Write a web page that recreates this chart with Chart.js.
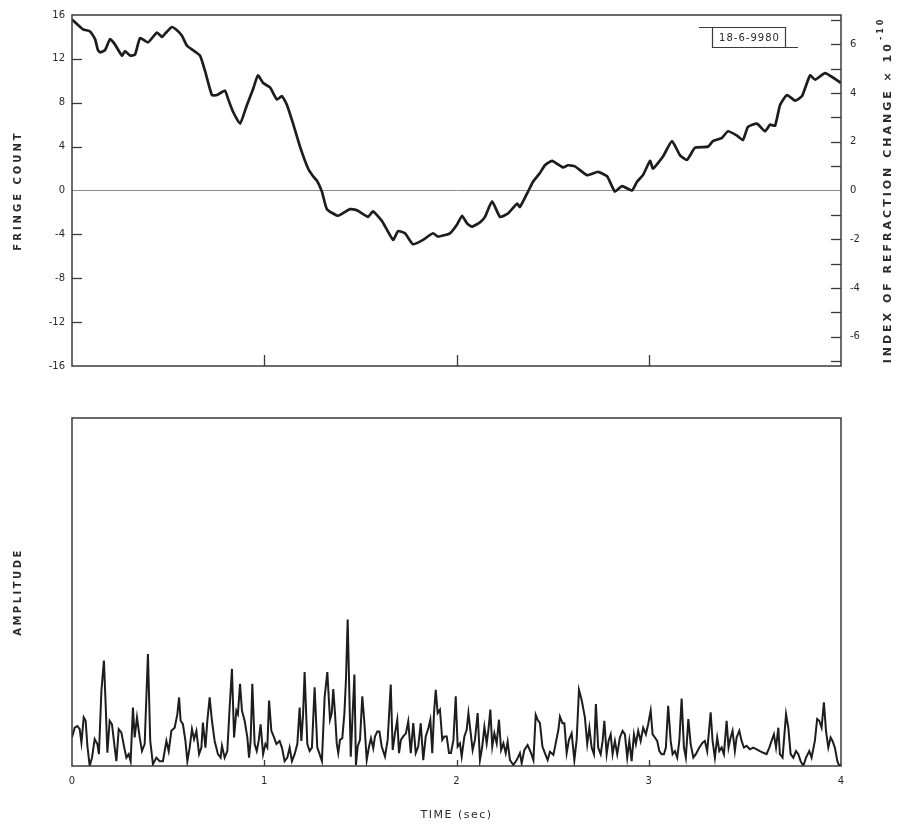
<!DOCTYPE html>
<html>
<head>
<meta charset="utf-8">
<script src="https://cdn.jsdelivr.net/npm/chart.js@4.4.1/dist/chart.umd.min.js"></script>
<style>
  html, body { margin: 0; padding: 0; background: #fff; }
  #wrap { position: relative; width: 905px; height: 824px; }
  #c1 { position: absolute; left: 0; top: 0; }
  #c2 { position: absolute; left: 0; top: 392px; }
</style>
</head>
<body>
<div id="wrap">
  <canvas id="c1" width="905" height="392"></canvas>
  <canvas id="c2" width="905" height="432"></canvas>
</div>
<script>
// ---- Fringe count record (time in seconds, count in fringes) ----
const fringeTime = [
  0.000,0.057,0.094,0.120,0.135,0.146,0.172,0.198,0.224,0.260,
  0.276,0.302,0.328,0.354,0.395,0.442,0.468,0.484,0.520,0.546,
  0.572,0.598,0.629,0.666,0.692,0.728,0.754,0.796,0.811,0.837,
  0.874,0.910,0.941,0.967,0.994,1.030,1.066,1.092,1.118,1.150,
  1.186,1.228,1.254,1.274,1.300,1.326,1.384,1.446,1.482,1.540,
  1.566,1.613,1.670,1.696,1.732,1.774,1.826,1.878,1.904,1.966,
  2.003,2.029,2.055,2.081,2.122,2.148,2.185,2.226,2.268,2.315,
  2.330,2.372,2.398,2.434,2.460,2.497,2.554,2.580,2.616,2.679,
  2.736,2.783,2.824,2.861,2.913,2.939,2.970,3.007,3.022,3.074,
  3.121,3.163,3.199,3.241,3.308,3.334,3.381,3.412,3.459,3.490,
  3.516,3.563,3.605,3.631,3.657,3.683,3.719,3.761,3.797,3.839,
  3.865,3.917,3.958,3.984,4.000
];
const fringeCount = [
  15.6,14.7,14.5,13.8,12.8,12.6,12.8,13.8,13.3,12.3,
  12.7,12.3,12.4,13.9,13.5,14.4,14.0,14.3,14.9,14.6,
  14.1,13.2,12.8,12.3,10.9,8.7,8.7,9.1,8.4,7.2,
  6.1,7.8,9.2,10.5,9.8,9.4,8.3,8.6,7.8,6.1,
  4.0,2.0,1.3,0.9,-0.1,-1.7,-2.3,-1.7,-1.8,-2.4,
  -1.9,-2.8,-4.5,-3.7,-3.9,-4.9,-4.5,-3.9,-4.2,-3.9,
  -3.1,-2.3,-3.0,-3.3,-2.9,-2.4,-1.0,-2.4,-2.1,-1.2,
  -1.5,-0.1,0.8,1.6,2.3,2.7,2.1,2.3,2.2,1.4,
  1.7,1.3,-0.1,0.4,0.0,0.8,1.4,2.7,2.0,3.1,
  4.5,3.2,2.8,3.9,4.0,4.5,4.8,5.4,5.0,4.6,
  5.8,6.1,5.4,6.0,5.9,7.8,8.7,8.2,8.6,10.5,
  10.1,10.7,10.3,10.0,9.8
];

// ---- Amplitude record (time in seconds, arbitrary amplitude units) ----
const ampTime = [
  0.000,0.014,0.028,0.040,0.049,0.061,0.071,0.080,0.092,0.104,
  0.118,0.132,0.140,0.153,0.166,0.175,0.184,0.196,0.208,0.222,
  0.231,0.243,0.257,0.270,0.283,0.295,0.305,0.317,0.326,0.338,
  0.352,0.364,0.378,0.395,0.407,0.421,0.439,0.456,0.473,0.491,
  0.503,0.517,0.534,0.548,0.557,0.565,0.577,0.590,0.600,0.612,
  0.624,0.635,0.647,0.661,0.673,0.681,0.694,0.704,0.716,0.728,
  0.742,0.759,0.773,0.780,0.794,0.808,0.820,0.832,0.843,0.855,
  0.863,0.874,0.884,0.898,0.912,0.921,0.929,0.938,0.950,0.961,
  0.971,0.981,0.994,1.006,1.016,1.025,1.037,1.051,1.063,1.080,
  1.092,1.106,1.120,1.132,1.144,1.158,1.172,1.184,1.193,1.202,
  1.210,1.224,1.236,1.248,1.262,1.276,1.288,1.300,1.314,1.328,
  1.342,1.351,1.359,1.368,1.377,1.385,1.394,1.406,1.417,1.425,
  1.434,1.443,1.450,1.460,1.469,1.477,1.486,1.498,1.510,1.521,
  1.533,1.545,1.555,1.567,1.576,1.588,1.599,1.611,1.628,1.642,
  1.658,1.668,1.680,1.692,1.701,1.711,1.723,1.737,1.749,1.762,
  1.775,1.788,1.801,1.814,1.827,1.840,1.854,1.864,1.874,1.883,
  1.892,1.902,1.914,1.926,1.937,1.949,1.961,1.971,1.984,1.996,
  2.006,2.018,2.027,2.041,2.053,2.062,2.074,2.084,2.096,2.110,
  2.122,2.134,2.145,2.157,2.166,2.176,2.186,2.197,2.209,2.221,
  2.232,2.244,2.256,2.266,2.278,2.296,2.313,2.330,2.339,2.353,
  2.370,2.388,2.400,2.412,2.422,2.434,2.447,2.460,2.474,2.486,
  2.504,2.516,2.530,2.538,2.551,2.561,2.573,2.585,2.599,2.613,
  2.625,2.637,2.651,
  2.668,2.680,2.691,2.703,2.715,2.725,2.737,2.750,2.760,2.769,
  2.781,2.791,2.802,2.812,2.824,2.836,2.850,2.864,2.876,2.888,
  2.899,2.911,2.923,2.933,2.945,2.958,2.971,2.985,2.997,3.010,
  3.020,3.032,3.044,3.055,3.067,3.079,3.089,3.101,3.114,3.124,
  3.136,3.148,3.159,3.171,3.183,3.193,3.206,3.218,3.232,3.245,
  3.263,3.280,3.292,3.304,3.322,3.332,3.344,3.356,3.367,3.379,
  3.391,3.405,3.415,3.426,3.436,3.448,3.457,3.471,3.483,3.495,
  3.509,3.526,3.544,3.561,3.578,3.596,3.613,3.627,3.639,3.651,
  3.662,3.674,3.682,3.696,3.703,3.714,3.726,3.738,3.752,3.766,
  3.778,3.790,3.804,3.818,3.835,3.847,3.864,3.876,3.887,3.899,
  3.911,3.922,3.934,3.946,3.956,3.968,3.981,3.991,4.000
];
const amplitude = [
  8.2,11,11.5,10.6,6.7,14,13,5.8,0,2.4,
  7.7,6.3,3.4,21.6,30.3,17.8,3.8,13,12,5.3,
  1.4,10.6,9.6,5.8,2.4,3.4,1.4,16.8,8.2,14,
  8.2,4.3,6.3,32.2,7.2,0.5,2.4,1.4,1.4,7.2,
  4.3,10.1,11,14.9,19.7,13,12,7.2,1.4,5.3,
  10.6,7.7,10.1,3.4,5.3,12.5,5.3,13,19.7,13,
  7.2,3.4,2.4,5.8,2.4,4.3,16.8,27.9,8.2,15.9,
  14.9,23.6,15.9,13,8.2,2.4,7.2,23.6,6.3,4.3,
  7.2,12,3.4,6.3,5.3,18.8,10.1,8.2,6.3,7.2,
  5.3,1.4,2.4,5.3,1.4,3.4,6.3,16.8,7.2,14.9,
  27,6.3,4.3,5.3,22.6,5.3,3.4,1.4,19.7,27,
  13.3,15.2,22.1,15.2,6.5,3.7,7.5,8,15.2,24.8,
  42.1,20,2.7,15.2,26.3,0.3,5.6,7.5,20,12.3,
  1.7,5.6,8,5.1,8.5,9.9,9.9,5.6,2.7,7.5,
  23.4,4.6,9.4,13.3,3.7,7.5,8.5,9.4,12.8,3.7,
  12.3,3.7,5.6,12.3,1.7,8.5,10.9,13.3,3.7,15.2,
  21.9,15.2,16.2,7.5,8.5,8.5,3.7,3.7,7.5,20,
  5.6,6.5,2.7,8.5,10.4,15.2,9.4,4.6,7.5,15.2,
  1.7,5.6,11.3,6.5,10.4,16.2,5.6,9.4,6.5,13.3,
  4.6,6.5,3.7,7,1.7,0.3,1.7,3.7,0.8,4.6,
  6,3.7,1.7,14.7,13.3,12.3,5.6,3.7,1.7,4.1,
  3.2,6.5,10.4,14.2,12.3,12.3,3.7,7.5,9.4,1.7,
  7.5,21.9,19,
  13.9,6.3,11,5.3,3.4,17.8,5.3,3.4,7.2,13,
  3.4,7.2,9.1,3.4,7.2,3.4,8.2,10.1,9.1,2.4,
  7.2,1.4,9.1,6.3,10.1,7.2,11,9.1,12,15.9,
  9.1,8.2,7.2,4.3,3.4,3.4,5.3,17.3,7.2,3.4,
  4.3,2.4,7.2,19.4,5.3,2.4,13.5,6.3,2.4,3.4,
  5.3,6.7,7.2,4.3,15.4,7.2,2.4,8.2,4.3,5.3,
  3.4,13,5.3,8.2,10.1,4.3,8.2,10.1,7.2,5.3,
  5.8,4.8,5.3,4.8,4.3,3.8,3.4,5.3,7.2,9.1,
  5.3,11,3.4,2.4,7.2,14.9,11,3.4,2.4,4.3,
  3.4,1.4,0,2.4,4.3,2.4,7.2,13.5,13,11,
  18.3,10.1,5.3,8.2,7.2,5.3,1.4,0,0.5
];

// ---- Axis ticks ----
const timeTicks = [0, 1, 2, 3, 4];
const timeInnerMarks = [1, 2, 3];
const fringeTicks = [16, 12, 8, 4, 0, -4, -8, -12, -16];
const fringeInnerMarks = [12, 8, 4, -4, -8, -12];
const indexTicks = [6, 4, 2, 0, -2, -4, -6];
const indexInnerMarks = [7, 6, 5, 4, 3, 2, 1, -1, -2, -3, -4, -5, -6, -7];
const runLabel = '18-6-9980';

const INK = '#1d1d1d';
const FRAME = '#3a3a3a';
const TEXT = '#2a2a2a';

// Draws the box frame, inward tick marks, axis titles and the run label.
const framePlugin = {
  id: 'frame',
  afterDatasetsDraw(chart, args, o) {
    const { ctx, chartArea: a } = chart;
    ctx.save();
    ctx.strokeStyle = FRAME;
    ctx.lineWidth = 1.5;
    ctx.strokeRect(a.left, a.top, a.right - a.left, a.bottom - a.top);

    ctx.lineWidth = 1.3;
    (o.marks || []).forEach(m => {
      const s = chart.scales[m.scale];
      m.values.forEach(v => {
        const p = Math.round(s.getPixelForValue(v)) + 0.5;
        ctx.beginPath();
        if (m.edge === 'left') { ctx.moveTo(a.left, p); ctx.lineTo(a.left + m.len, p); }
        if (m.edge === 'right') { ctx.moveTo(a.right, p); ctx.lineTo(a.right - m.len, p); }
        if (m.edge === 'bottom') { ctx.moveTo(p, a.bottom); ctx.lineTo(p, a.bottom - m.len); }
        ctx.stroke();
      });
    });

    ctx.fillStyle = TEXT;
    (o.titles || []).forEach(t => {
      ctx.save();
      ctx.font = t.font;
      ctx.letterSpacing = t.spacing || '0px';
      ctx.textBaseline = 'middle';
      ctx.textAlign = 'left';
      const cy = t.y === 'mid' ? (a.top + a.bottom) / 2 : t.y;
      const cx = t.x === 'mid' ? (a.left + a.right) / 2 : t.x;
      ctx.translate(cx, cy);
      if (t.rotate) ctx.rotate(-Math.PI / 2);
      const w = ctx.measureText(t.text).width;
      let supW = 0;
      if (t.sup) {
        ctx.save();
        ctx.font = t.supFont;
        supW = ctx.measureText(t.sup).width;
        ctx.restore();
      }
      const x0 = -(w + supW) / 2;
      ctx.fillText(t.text, x0, 0);
      if (t.sup) {
        ctx.font = t.supFont;
        ctx.fillText(t.sup, x0 + w + 1, -7);
      }
      ctx.restore();
    });

    if (o.tag) {
      const L = a.right - o.tag.fromRight, R = L + o.tag.width;
      const T = a.top + o.tag.fromTop, B = T + o.tag.height;
      ctx.strokeStyle = FRAME;
      ctx.lineWidth = 1.2;
      ctx.beginPath();
      ctx.moveTo(L - 13, T + 0.5); ctx.lineTo(R + 0.5, T + 0.5);
      ctx.lineTo(R + 0.5, B + 0.5); ctx.lineTo(R + 13, B + 0.5);
      ctx.moveTo(L + 0.5, T); ctx.lineTo(L + 0.5, B + 0.5); ctx.lineTo(R, B + 0.5);
      ctx.stroke();
      ctx.font = '10px "DejaVu Sans"';
      ctx.letterSpacing = '1px';
      ctx.textAlign = 'center';
      ctx.textBaseline = 'middle';
      ctx.fillText(o.tag.text, (L + R) / 2 + 1, (T + B) / 2 + 1);
    }
    ctx.restore();
  }
};

const tickFont = { family: 'DejaVu Sans', size: 10 };

// Upper panel: fringe count with refraction-index scale on the right
new Chart(document.getElementById('c1'), {
  type: 'line',
  data: {
    datasets: [{
      data: fringeTime.map((t, i) => ({ x: t, y: fringeCount[i] })),
      borderColor: INK,
      borderWidth: 2.7,
      pointRadius: 0,
      tension: 0.15,
      fill: false,
      yAxisID: 'y'
    }]
  },
  options: {
    responsive: false,
    animation: false,
    events: [],
    layout: { padding: { top: 15, left: 0, right: 0, bottom: 0 } },
    plugins: {
      legend: { display: false },
      tooltip: { enabled: false },
      frame: {
        marks: [
          { scale: 'y', edge: 'left', len: 10, values: fringeInnerMarks },
          { scale: 'y1', edge: 'right', len: 10, values: indexInnerMarks },
          { scale: 'x', edge: 'bottom', len: 11, values: timeInnerMarks }
        ],
        titles: [
          { text: 'FRINGE COUNT', x: 18, y: 'mid', rotate: true,
            font: 'bold 10px "DejaVu Sans"', spacing: '3px' },
          { text: 'INDEX OF REFRACTION CHANGE \u00d7 10', sup: '-10', x: 888, y: 'mid', rotate: true,
            font: 'bold 11px "DejaVu Sans"', supFont: 'bold 8px "DejaVu Sans"', spacing: '3px' }
        ],
        tag: { text: runLabel, fromRight: 129, width: 73, fromTop: 12, height: 20 }
      }
    },
    scales: {
      x: {
        type: 'linear', min: 0, max: 4,
        afterBuildTicks: s => { s.ticks = timeTicks.map(v => ({ value: v })); },
        ticks: { display: false },
        grid: { display: false },
        border: { display: false },
        afterFit: s => { s.height = 26; }
      },
      y: {
        position: 'left', min: -16, max: 16,
        afterBuildTicks: s => { s.ticks = fringeTicks.map(v => ({ value: v })); },
        ticks: { color: TEXT, font: tickFont, padding: 7 },
        grid: {
          drawTicks: false,
          lineWidth: 1,
          color: c => (c.tick && c.tick.value === 0) ? '#8c8c8c' : 'rgba(0,0,0,0)'
        },
        border: { display: false },
        afterFit: s => { s.width = 72; }
      },
      y1: {
        position: 'right', min: -7.2, max: 7.2,
        afterBuildTicks: s => { s.ticks = indexTicks.map(v => ({ value: v })); },
        ticks: { color: TEXT, font: tickFont, padding: 9 },
        grid: { display: false, drawTicks: false },
        border: { display: false },
        afterFit: s => { s.width = 64; }
      }
    }
  },
  plugins: [framePlugin]
});

// Lower panel: amplitude
new Chart(document.getElementById('c2'), {
  type: 'line',
  data: {
    datasets: [{
      data: ampTime.map((t, i) => ({ x: t, y: amplitude[i] })),
      borderColor: INK,
      borderWidth: 2,
      pointRadius: 0,
      tension: 0,
      fill: false
    }]
  },
  options: {
    responsive: false,
    animation: false,
    events: [],
    layout: { padding: { top: 26, left: 72, right: 64, bottom: 0 } },
    plugins: {
      legend: { display: false },
      tooltip: { enabled: false },
      frame: {
        marks: [
          { scale: 'x', edge: 'bottom', len: 6, values: timeInnerMarks }
        ],
        titles: [
          { text: 'AMPLITUDE', x: 18, y: 'mid', rotate: true,
            font: 'bold 10px "DejaVu Sans"', spacing: '2.5px' },
          { text: 'TIME (sec)', x: 'mid', y: 423, rotate: false,
            font: '11px "DejaVu Sans"', spacing: '1.5px' }
        ]
      }
    },
    scales: {
      x: {
        type: 'linear', min: 0, max: 4,
        afterBuildTicks: s => { s.ticks = timeTicks.map(v => ({ value: v })); },
        ticks: { color: TEXT, font: tickFont, padding: 9, maxRotation: 0 },
        grid: { display: false, drawTicks: false },
        border: { display: false },
        afterFit: s => { s.height = 58; }
      },
      y: {
        display: false,
        min: 0, max: 100
      }
    }
  },
  plugins: [framePlugin]
});
</script>
</body>
</html>
